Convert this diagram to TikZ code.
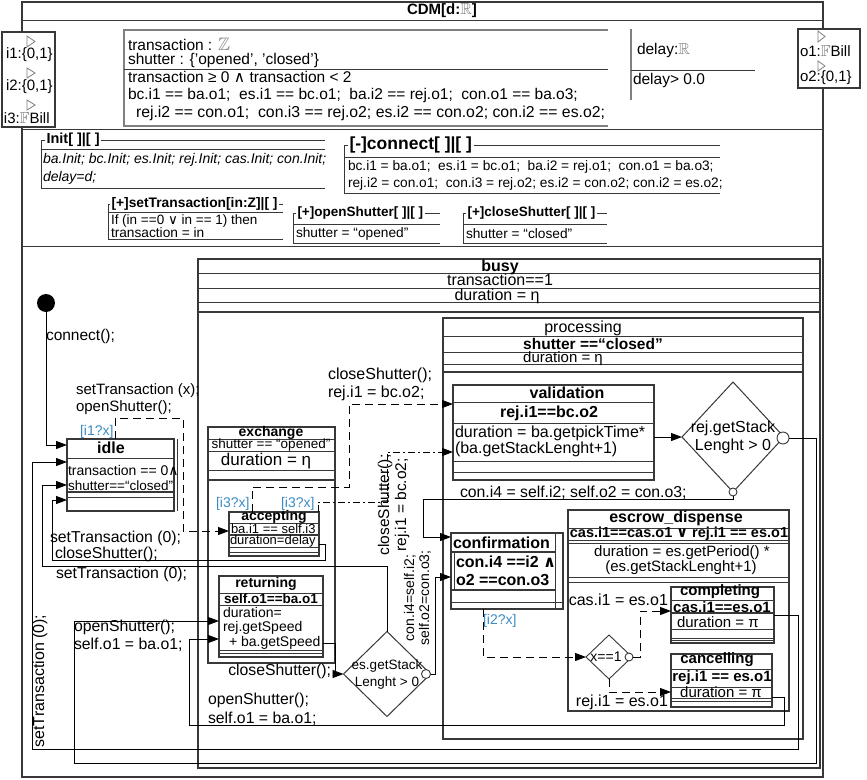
\documentclass[tikz,border=0pt]{standalone}
\usepackage{fontspec}
\usepackage{amssymb}
\setmainfont{Liberation Sans}
\newfontfamily\dvs{DejaVu Sans}
\usetikzlibrary{arrows.meta,shapes.geometric}
\definecolor{lc}{gray}{0.22}
\definecolor{lg}{gray}{0.5}
\definecolor{blu}{RGB}{60,140,195}
\newcommand\fz[1]{\fontsize{#1}{#1}\selectfont}
\newcommand\dbZ{\textcolor{lg}{\fz{18}$\mathbb{Z}$}}
\newcommand\dbR{\textcolor{lg}{\fz{16}$\mathbb{R}$}}
\newcommand\dbF{\textcolor{lg}{\fz{16}$\mathbb{F}$}}
\newcommand\andsym{{\dvs ∧}}
\newcommand\orsym{{\dvs ∨}}
\tikzset{
 bx/.style={draw=lc, line width=1.2pt, inner sep=0pt, outer sep=0pt, anchor=north west},
 cl/.style={draw=lc, line width=1pt},
 tl/.style={draw=lc, line width=1.8pt},
 gl/.style={draw=lg, line width=1.8pt},
 cn/.style={draw=black, line width=0.9pt},
 ar/.style={-{Triangle[length=11pt,width=8pt]}},
 dsh/.style={dash pattern=on 8pt off 5pt},
 dd/.style={dash pattern=on 7pt off 3pt on 2pt off 3pt},
 tx/.style={inner sep=0pt, outer sep=0pt, font=\fz{15.5}},
 txw/.style={tx, anchor=west},
 txe/.style={tx, anchor=east},
 grd/.style={txw, font=\fz{14}, text=blu},
 tri/.style={draw=lg, line width=0.8pt},
 dmd/.style={diamond, draw=lc, line width=1pt, inner sep=0pt, outer sep=0pt},
 pc/.style={circle, draw=lc, fill=white, line width=0.9pt, inner sep=0pt, outer sep=0pt},
}
\begin{document}
\begin{tikzpicture}[x=1pt,y=-1pt]
\useasboundingbox (0,0) rectangle (867,779);
\fill[white] (0,0) rectangle (867,779);

% ===== main frame
\node[bx, minimum width=801pt, minimum height=775pt] (cdm) at (22,2) {};
\draw[cl] (22,20) -- (823,20);
\draw[cl] (22,129) -- (823,129);
\draw[cl] (22,246) -- (823,246);
\node[tx, font=\bfseries\fz{15}] (cdmT) at (442,11) {CDM[d:\dbR]};

% ===== ports
\node[bx, fill=white, minimum width=53pt, minimum height=95pt] (pin) at (2,32) {};
\draw[tri] (27,36) -- (35,41.5) -- (27,47) -- cycle;
\draw[tri] (27,68) -- (35,73) -- (27,78) -- cycle;
\draw[tri] (27,100) -- (35,105) -- (27,110) -- cycle;
\node[txw, font=\fz{15}] (pi1) at (6,55) {i1:\{0,1\}};
\node[txw, font=\fz{15}] (pi2) at (6,87) {i2:\{0,1\}};
\node[txw, font=\fz{15}] (pi3) at (4,118) {i3:\dbF Bill};
\node[bx, fill=white, minimum width=62pt, minimum height=59pt] (pout) at (798,29) {};
\draw[tri] (818,31) -- (825,36.5) -- (818,42) -- cycle;
\draw[tri] (818,61) -- (825,66) -- (818,71) -- cycle;
\node[txw, font=\fz{15}] (po1) at (800,51) {o1:\dbF Bill};
\node[txw, font=\fz{15}] (po2) at (800,78) {o2:\{0,1\}};

% ===== variables
\draw[gl] (608,30) -- (124,30) -- (124,126) -- (608,126);
\draw[cl] (124,69) -- (608,69);
\node[txw] (v1) at (128,44) {transaction\hspace{4pt}:\hspace{6pt}\dbZ};
\node[txw] (v2) at (128,60) {shutter : \{'opened', 'closed'\}};
\node[txw] (v3) at (128,77) {transaction ≥ 0 \andsym\ transaction < 2};
\node[txw] (v4) at (128,95) {bc.i1 == ba.o1;\ \ es.i1 == bc.o1;\ \ ba.i2 == rej.o1;\ \ con.o1 == ba.o3;};
\node[txw, font=\fz{15.8}] (v5) at (136,113) {rej.i2 == con.o1;\ \ con.i3 == rej.o2; es.i2 == con.o2; con.i2 == es.o2;};
\draw[gl] (631,29) -- (631,100);
\draw[cl] (631,70) -- (755,70);
\node[txw] (d1) at (637,50) {delay:\dbR};
\node[txw] (d2) at (633,80) {delay> 0.0};

% ===== operations
\node[txw, font=\bfseries\fz{14.5}, inner xsep=1.5pt] (opI) at (45,140) {Init[ ]|[ ]};
\draw[cl] (opI.east) -- (325,140);
\draw[cl] (opI.west) -- (41,140) -- (41,188) -- (325,188);
\draw[cl] (41,149) -- (325,149);
\node[txw, font=\itshape\fz{14}] (in1) at (43,160) {ba.Init; bc.Init; es.Init; rej.Init; cas.Init; con.Init;};
\node[txw, font=\itshape\fz{14}] (in2) at (43,178) {delay=d;};

\node[txw, font=\bfseries\fz{17.5}, inner xsep=1.5pt] (opC) at (348,145) {[-]connect[ ]|[ ]};
\draw[cl] (opC.east) -- (720,145);
\draw[cl] (opC.west) -- (344,145) -- (344,193) -- (720,193);
\draw[cl] (344,157) -- (720,157);
\node[txw, font=\fz{13.7}] (c1) at (348,167) {bc.i1 = ba.o1;\ \ es.i1 = bc.o1;\ \ ba.i2 = rej.o1;\ \ con.o1 = ba.o3;};
\node[txw, font=\fz{13.7}] (c2) at (348,184) {rej.i2 = con.o1;\ \ con.i3 = rej.o2; es.i2 = con.o2; con.i2 = es.o2;};

\node[txw, font=\bfseries\fz{13.8}, inner xsep=1.5pt] (opS) at (110,204) {[+]setTransaction[in:Z]|[ ]};
\draw[cl] (opS.east) -- (283,204);
\draw[cl] (opS.west) -- (108,204) -- (108,239) -- (283,239);
\draw[cl] (108,212) -- (283,212);
\node[txw, font=\fz{13.5}] (s1) at (111,221) {If (in ==0 \orsym\ in == 1) then};
\node[txw, font=\fz{13.7}] (s2) at (111,233) {transaction = in};

\node[txw, font=\bfseries\fz{13.5}, inner xsep=1.5pt] (opO) at (296,213) {[+]openShutter[ ]|[ ]};
\draw[cl] (opO.east) -- (440,213);
\draw[cl] (opO.west) -- (293,213) -- (293,243) -- (440,243);
\draw[cl] (293,224) -- (440,224);
\node[txw, font=\fz{13.7}] (o1t) at (296,234) {shutter = “opened”};

\node[txw, font=\bfseries\fz{13.5}, inner xsep=1.5pt] (opX) at (466,213) {[+]closeShutter[ ]|[ ]};
\draw[cl] (opX.east) -- (607,213);
\draw[cl] (opX.west) -- (463,213) -- (463,243) -- (607,243);
\draw[cl] (463,224) -- (607,224);
\node[txw, font=\fz{13.7}] (x1t) at (466,234) {shutter = “closed”};

% ===== states
\node[circle, fill=black, minimum size=18pt, inner sep=0pt] (dot) at (46,303) {};
\node[txw] (lconn) at (46,336) {connect();};

% idle
\node[bx, minimum width=107pt, minimum height=72pt] (idle) at (67,439) {};
\draw[cl] (177,439) -- (177,511);
\draw[cl] (67,458) -- (174,458);
\draw[tl] (67,492) -- (174,492);
\draw[cl] (67,497) -- (174,497);
\node[tx, font=\bfseries\fz{16}] (idleT) at (111,448) {idle};
\node[txw, font=\fz{14}] (idle1) at (68,470) {transaction == 0\andsym};
\node[txw, font=\fz{13.5}] (idle2) at (68,486) {shutter==“closed”};

% busy
\node[bx, minimum width=622pt, minimum height=509pt] (busy) at (198,259) {};
\draw[cl] (198,273) -- (820,273);
\draw[cl] (198,288) -- (820,288);
\draw[cl] (198,302) -- (820,302);
\draw[tl] (198,312) -- (820,312);
\node[tx, font=\bfseries\fz{16}] (busyT) at (500,267) {busy};
\node[tx, font=\fz{16}] (busy1) at (500,280) {transaction==1};
\node[tx, font=\fz{16}] (busy2) at (497,296) {duration = η};

% exchange
\node[bx, minimum width=127pt, minimum height=236pt] (exch) at (208,427) {};
\draw[cl] (208,439) -- (335,439);
\draw[cl] (208,451) -- (335,451);
\draw[cl] (208,470) -- (335,470);
\draw[tl] (208,480) -- (335,480);
\node[tx, font=\bfseries\fz{14}] (exT) at (271,433) {exchange};
\node[tx, font=\fz{13.5}] (ex1) at (271,445) {shutter == “opened”};
\node[tx, font=\fz{17}] (ex2) at (266,461) {duration = η};

% accepting
\node[bx, minimum width=90pt, minimum height=44pt] (acc) at (229,512) {};
\draw[cl] (229,523) -- (319,523);
\draw[tl] (229,535) -- (319,535);
\draw[cl] (229,547) -- (319,547);
\draw[cl] (229,552) -- (319,552);
\node[tx, font=\bfseries\fz{14}] (acT) at (274,517) {accepting};
\node[txw, font=\fz{13}] (ac1) at (231,528.5) {ba.i1 == self.i3};
\node[txw, font=\fz{13}] (ac2) at (230,541.5) {duration=delay};

% returning
\node[bx, minimum width=104pt, minimum height=81pt] (ret) at (219,576) {};
\draw[cl] (219,593) -- (323,593);
\draw[cl] (219,605) -- (323,605);
\draw[cl] (219,650) -- (323,650);
\draw[cl] (219,653) -- (323,653);
\node[tx, font=\bfseries\fz{14}] (reT) at (266,584) {returning};
\node[tx, font=\bfseries\fz{13.5}] (re1) at (271,599) {self.o1==ba.o1};
\node[txw, font=\fz{14}] (re2) at (223,612) {duration=};
\node[txw, font=\fz{14}] (re3) at (223,628) {rej.getSpeed};
\node[txw, font=\fz{14}] (re4) at (229,643) {+ ba.getSpeed};

% es diamond
\node[dmd, minimum width=87pt, minimum height=85pt] (esd) at (387,674) {};
\node[tx, font=\fz{13.5}] (esd1) at (387,666) {es.getStack};
\node[tx, font=\fz{13.5}] (esd2) at (387,683) {Lenght > 0};
\node[pc, minimum size=9pt] (esc) at (426,674) {};

% processing
\node[bx, minimum width=360pt, minimum height=421pt] (proc) at (443,318) {};
\draw[cl] (443,336) -- (803,336);
\draw[cl] (443,352) -- (803,352);
\draw[cl] (443,364) -- (803,364);
\draw[tl] (443,372) -- (803,372);
\node[tx, font=\fz{16}] (prT) at (583,328) {processing};
\node[tx, font=\bfseries\fz{15.5}] (pr1) at (593,343.5) {shutter ==“closed”};
\node[tx, font=\fz{15}] (pr2) at (563,359) {duration = η};

% validation
\node[bx, minimum width=201pt, minimum height=95pt] (val) at (453,385) {};
\draw[cl] (453,402) -- (654,402);
\draw[cl] (453,423) -- (654,423);
\draw[cl] (453,461) -- (654,461);
\draw[cl] (453,472) -- (654,472);
\node[tx, font=\bfseries\fz{16}] (vaT) at (567,393) {validation};
\node[tx, font=\bfseries\fz{16}] (va1) at (549,413) {rej.i1==bc.o2};
\node[txw, font=\fz{16}] (va2) at (455,433) {duration = ba.getpickTime*};
\node[txw, font=\fz{16}] (va3) at (455,449) {(ba.getStackLenght+1)};

% rej diamond
\node[dmd, minimum width=102pt, minimum height=110pt] (rejd) at (733,437) {};
\node[tx, font=\fz{16}] (rejd1) at (733,428) {rej.getStack};
\node[tx, font=\fz{16}] (rejd2) at (733,446) {Lenght > 0};
\node[pc, minimum size=12pt] (rejc) at (783,438) {};
\node[pc, minimum size=8pt] (rejb) at (733,492) {};

% confirmation
\node[bx, minimum width=112pt, minimum height=76pt] (conf) at (451,533) {};
\draw[cl] (555,533) -- (555,609);
\draw[cl] (454,552) -- (454,590);
\draw[tl] (451,552) -- (555,552);
\draw[tl] (451,590) -- (555,590);
\draw[cl] (451,602) -- (563,602);
\node[txw, font=\bfseries\fz{16}] (coT) at (453,543) {confirmation};
\node[txw, font=\bfseries\fz{16}] (co1) at (456,562) {con.i4 ==i2 \andsym};
\node[txw, font=\bfseries\fz{16}] (co2) at (456,580) {o2 ==con.o3};

% escrow_dispense
\node[bx, minimum width=221pt, minimum height=201pt] (escr) at (568,510) {};
\draw[cl] (568,528) -- (789,528);
\draw[cl] (568,540) -- (789,540);
\draw[tl] (568,543.5) -- (789,543.5);
\draw[cl] (568,577) -- (789,577);
\draw[cl] (568,582) -- (789,582);
\node[tx, font=\bfseries\fz{16}] (esT) at (676,518) {escrow\_dispense};
\node[tx, font=\bfseries\fz{14.5}] (es1) at (679,534) {cas.i1==cas.o1 \orsym\ rej.i1 == es.o1};
\node[tx, font=\fz{15}] (es2) at (682,553) {duration = es.getPeriod() *};
\node[tx, font=\fz{15}] (es3) at (681,568) {(es.getStackLenght+1)};

% completing
\node[bx, minimum width=103pt, minimum height=56pt] (comp) at (671,587) {};
\draw[cl] (671,600) -- (774,600);
\draw[tl] (671,613) -- (774,613);
\draw[cl] (671,629) -- (774,629);
\draw[cl] (671,638) -- (774,638);
\draw[cl] (671,640.5) -- (774,640.5);
\node[tx, font=\bfseries\fz{15}] (cpT) at (720,592) {completing};
\node[tx, font=\bfseries\fz{15}] (cp1) at (722,607) {cas.i1==es.o1};
\node[txw, font=\fz{15}] (cp2) at (677,622) {duration = π};

% cancelling
\node[bx, minimum width=101pt, minimum height=53pt] (canc) at (671,654) {};
\draw[cl] (671,669) -- (772,669);
\draw[cl] (671,687) -- (772,687);
\draw[cl] (671,698) -- (772,698);
\draw[cl] (671,701) -- (772,701);
\node[tx, font=\bfseries\fz{15}] (caT) at (717,660) {cancelling};
\node[tx, font=\bfseries\fz{15}] (ca1) at (722,678) {rej.i1 == es.o1};
\node[tx, font=\fz{15}] (ca2) at (721,692) {duration = π};

% x==1 diamond
\node[dmd, line width=0.9pt, minimum width=46pt, minimum height=44pt] (xd) at (609,657) {};
\node[tx, font=\fz{14}] (xdT) at (606,657) {x==1};
\node[pc, minimum size=8pt] (xc) at (629,657) {};

% ===== connectors
\draw[cn,ar] (dot.south) -- (46,445) -- (idle.west |- 0,445);
\draw[cn,dsh,ar] (idle.north -| 115,0) -- (115,418) -- (183,418) -- (183,531) -- (acc.west |- 0,531);
\draw[cn,dsh,ar] (acc.north -| 252,0) -- (252,487) -- (349,487) -- (349,404) -- (val.west |- 0,404);
\draw[cn,dd,ar] (acc.north -| 318,0) -- (318,502) -- (387,502) -- (387,452) -- (val.west |- 0,452);
\draw[cn,ar] (val.east |- rejd.west) -- (rejd.west);
\draw[cn,ar] (rejb.south) -- (733,499) -- (423,499) -- (423,537) -- (conf.west |- 0,537);
\draw[cn,ar] (rejc.east) -- (816,438) -- (816,763) -- (74,763) -- (74,621) -- (ret.west |- 0,621);
\draw[cn,ar] (canc.east |- 0,697) -- (784,697) -- (784,725) -- (189,725) -- (189,639) -- (ret.west |- 0,639);
\draw[cn,ar] (comp.east |- 0,615) -- (798,615) -- (798,749) -- (32,749) -- (32,462) -- (idle.west |- 0,462);
\draw[cn,ar] (ret.east |- 0,643) -- (335,643) -- (335,674) -- (esd.west);
\draw[cn,ar] (esd.north) -- (387,566) -- (42,566) -- (42,485) -- (idle.west |- 0,485);
\draw[cn,ar] (acc.east |- 0,544) -- (325,544) -- (325,560) -- (52,560) -- (52,500) -- (idle.west |- 0,500);
\draw[cn,ar] (esc.east) -- (435,674) -- (435,577) -- (conf.west |- 0,577);
\draw[cn,dsh,ar] (conf.south -| 483,0) -- (483,657) -- (xd.west);
\draw[cn,dsh,ar] (xc.east) -- (640,657) -- (640,611) -- (comp.west |- 0,611);
\draw[cn,dsh,ar] (xd.south) -- (609,692) -- (canc.west |- 0,692);

% ===== connector labels
\node[txw, font=\fz{15}] (lst1) at (76,391) {setTransaction (x);};
\node[txw, font=\fz{15}] (lst2) at (76,408) {openShutter();};
\node[grd] (g1) at (80,432) {[i1?x]};
\node[txw, font=\fz{16}] (lcs1) at (328,375) {closeShutter();};
\node[txw, font=\fz{16}] (lcs2) at (328,393) {rej.i1 = bc.o2;};
\node[grd] (g2) at (216,504) {[i3?x]};
\node[grd] (g3) at (281,504) {[i3?x]};
\node[tx, rotate=90, font=\fz{15.5}] (lr1) at (385,505) {closeShutter();};
\node[tx, rotate=90, font=\fz{15.5}] (lr2) at (402,505) {rej.i1 = bc.o2;};
\node[txw, font=\fz{15.8}] (lci) at (460,493) {con.i4 = self.i2; self.o2 = con.o3;};
\node[tx, rotate=90, font=\fz{14}] (lr3) at (410,598) {con.i4=self.i2;};
\node[tx, rotate=90, font=\fz{14}] (lr4) at (425,598) {self.o2=con.o3;};
\node[grd] (g4) at (483,621) {[i2?x]};
\node[txe, font=\fz{16}] (lce) at (668,600) {cas.i1 = es.o1};
\node[txe, font=\fz{16}] (lre) at (668,702) {rej.i1 = es.o1};
\node[txw, font=\fz{15.8}] (lst3) at (50,538) {setTransaction (0);};
\node[txw, font=\fz{15.8}] (lcs3) at (55,554) {closeShutter();};
\node[txw, font=\fz{15.8}] (lst4) at (56,574) {setTransaction (0);};
\node[txe, font=\fz{15.8}] (lcs4) at (331,671) {closeShutter();};
\node[txw, font=\fz{15.8}] (los1) at (74,627) {openShutter();};
\node[txw, font=\fz{15.8}] (los2) at (74,645) {self.o1 = ba.o1;};
\node[txw, font=\fz{15.8}] (los3) at (208,700) {openShutter();};
\node[txw, font=\fz{15.8}] (los4) at (208,719) {self.o1 = ba.o1;};
\node[tx, rotate=90, font=\fz{16}] (lr5) at (40,681) {setTransaction (0);};
\end{tikzpicture}
\end{document}
